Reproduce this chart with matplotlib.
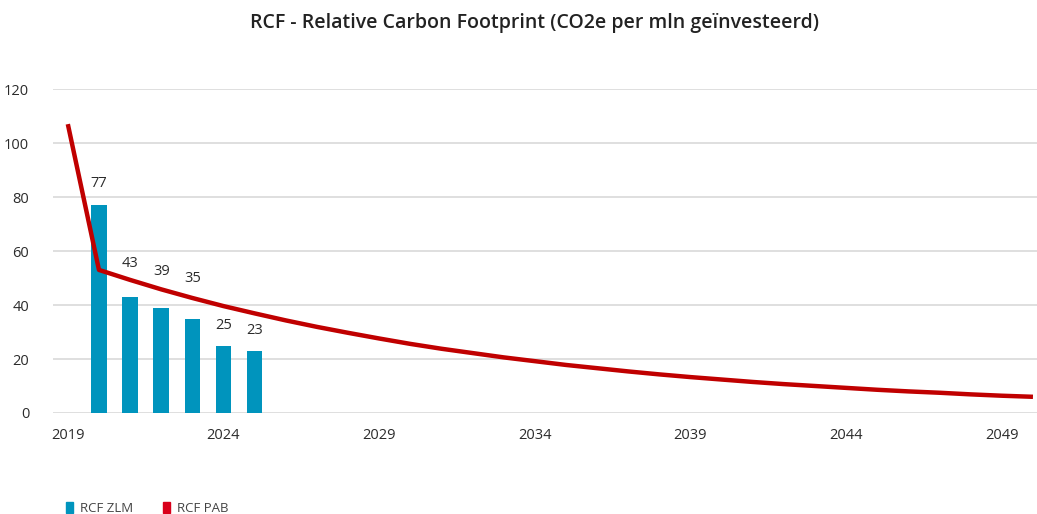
import matplotlib.pyplot as plt
from matplotlib.patches import Patch

plt.rcParams['font.family'] = ['Open Sans', 'DejaVu Sans']

# RCF ZLM (bars)
zlm_years = [2020, 2021, 2022, 2023, 2024, 2025]
zlm_values = [77, 43, 39, 35, 25, 23]

# RCF PAB (path line)
pab_years = list(range(2019, 2051))
pab_values = [107, 53, 49.3, 45.8, 42.6, 39.6, 36.9, 34.3, 31.9, 29.7, 27.6,
              25.6, 23.8, 22.2, 20.6, 19.2, 17.8, 16.6, 15.4, 14.3, 13.3,
              12.4, 11.5, 10.7, 10.0, 9.3, 8.6, 8.0, 7.5, 6.9, 6.4, 6.0]

x_ticks = [2019, 2024, 2029, 2034, 2039, 2044, 2049]
y_ticks = [0, 20, 40, 60, 80, 100, 120]

bar_col = "#0094bd"
line_col = "#c00000"
text_col = "#2b2b2b"

fig = plt.figure(figsize=(10.37, 5.14), dpi=100)
ax = fig.add_axes([0.051, 0.1965, 0.949, 0.6303])

ax.bar(zlm_years, zlm_values, width=0.5, color=bar_col, zorder=2)
# labels pushed up above the red line where they would collide
label_gap = [8, 12.5, 13.5, 15, 7.5, 7.5]
for x, v, g in zip(zlm_years, zlm_values, label_gap):
    ax.text(x, v + g, str(v), ha="center", va="center", fontsize=10.5, color=text_col)

ax.plot(pab_years, pab_values, color=line_col, lw=3.2, zorder=3, solid_capstyle="butt")

ax.set_xlim(2018.52, 2050.13)
ax.set_ylim(0, 120)
ax.set_xticks(x_ticks)
ax.set_yticks(y_ticks)
ax.tick_params(length=0, labelsize=10.5, colors=text_col)
ax.tick_params(axis="x", pad=11)
ax.tick_params(axis="y", pad=17)
ax.grid(axis="y", color="#d9d9d9", lw=1.2, zorder=0)
ax.set_axisbelow(True)
for s in ax.spines.values():
    s.set_visible(False)

fig.text(0.515, 0.955, "RCF - Relative Carbon Footprint (CO2e per mln geïnvesteerd)",
         ha="center", va="center", fontsize=14, fontweight="semibold", color="#222222")

handles = [Patch(color=bar_col, label="RCF ZLM"), Patch(color="#d9001b", label="RCF PAB")]
fig.legend(handles=handles, loc="lower left", bbox_to_anchor=(0.052, -0.025), ncol=2,
           frameon=False, fontsize=9.5, handlelength=0.55, handleheight=1.0,
           handletextpad=0.5, columnspacing=2.3, labelcolor="#444444")

fig.savefig("out.png", dpi=100)
